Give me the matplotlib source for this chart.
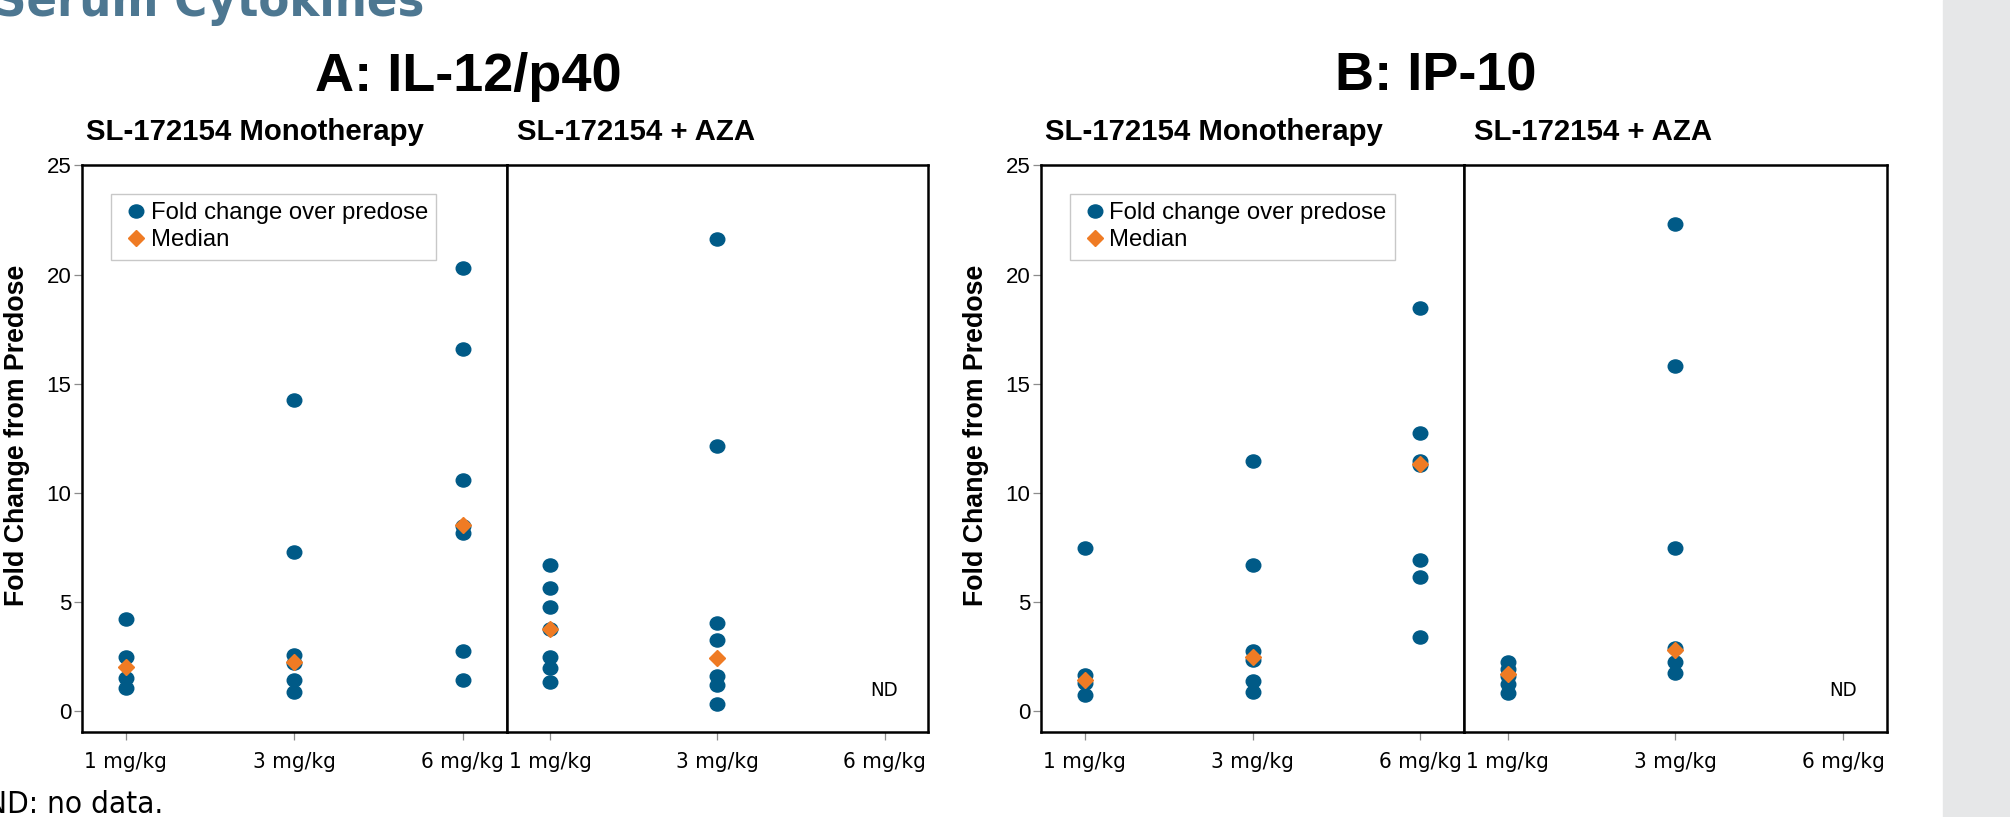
import matplotlib
matplotlib.use("Agg")
import matplotlib.pyplot as plt
from matplotlib import font_manager
from matplotlib.font_manager import FontProperties
from matplotlib.textpath import TextPath
from matplotlib.markers import MarkerStyle
from matplotlib.transforms import Affine2D
from matplotlib.patches import Rectangle

# ---- data ----
doses = ["1 mg/kg", "3 mg/kg", "6 mg/kg"]

il12_mono = [[4.24, 2.49, 1.52, 1.05],
             [14.24, 7.30, 2.57, 2.20, 1.44, 0.89],
             [20.28, 16.57, 10.61, 8.50, 8.16, 2.75, 1.45]]
il12_mono_median = [2.01, 2.26, 8.53]

il12_aza = [[6.69, 5.64, 4.76, 3.77, 2.49, 2.00, 1.35],
            [21.61, 12.16, 4.03, 3.29, 1.61, 1.21, 0.35],
            []]
il12_aza_median = [3.77, 2.43, None]

ip10_mono = [[7.46, 1.66, 1.30, 0.77],
             [11.47, 6.71, 2.75, 2.35, 1.38, 0.89],
             [18.48, 12.75, 11.45, 11.30, 6.95, 6.13, 3.40]]
ip10_mono_median = [1.45, 2.47, 11.32]

ip10_aza = [[2.26, 1.95, 1.60, 1.26, 0.82],
            [22.33, 15.82, 7.50, 2.92, 2.28, 1.75],
            []]
ip10_aza_median = [1.70, 2.80, None]

BLUE = "#005a87"
ORANGE = "#ef7b24"
TITLE_BLUE = "#4d7791"

plt.rcParams["font.family"] = ["Liberation Sans", "DejaVu Sans"]


def is_bold(w):
    if isinstance(w, str):
        return "bold" in w.lower() or w.lower() in ("heavy", "black")
    return w >= 600


def narrow_base(bold):
    # a condensed face if one is installed, else the regular sans
    picks = []
    for f in font_manager.fontManager.ttflist:
        st = str(f.stretch)
        if "Narrow" in f.name or st == "condensed":
            rank = 0
        elif "Condensed" in f.name or st == "semi-condensed":
            rank = 1
        else:
            continue
        if "Liberation" in f.name:
            rank = -1
        if is_bold(f.weight) == bold and f.style == "normal":
            picks.append((rank, f.fname))
    if picks:
        picks.sort()
        return FontProperties(fname=picks[0][1])
    return FontProperties(family="Liberation Sans",
                          weight="bold" if bold else "normal")


def fitted(bold, text, target_px):
    # size the condensed face so the text is as wide as in the reference
    fp = narrow_base(bold)
    w = TextPath((0, 0), text, size=10, prop=fp).get_extents().width
    fp = fp.copy()
    fp.set_size(10 * target_px / (w * 100 / 72))
    return fp


W, H = 2010, 817
fig = plt.figure(figsize=(W / 100, H / 100), dpi=100)


def fx(x):
    return x / W


def fy(y):
    return 1 - y / H


def px_axes(x0, x1, top, bot):
    return fig.add_axes([fx(x0), fy(bot), (x1 - x0) / W, (bot - top) / H])


dot = MarkerStyle("o", transform=Affine2D().scale(1.0, 0.9))
tick_fp = fitted(False, "3 mg/kg", 79)
nd_fp = fitted(False, "ND", 25)


def draw_panel(ax, values, medians, first):
    for i, vals in enumerate(values):
        if vals:
            ax.plot([i] * len(vals), vals, ls="none", marker=dot, ms=10.5,
                    color=BLUE, zorder=3,
                    label="Fold change over predose" if i == 0 else None)
        else:
            ax.text(i, 0.95, "ND", ha="center", va="center",
                    fontproperties=nd_fp)
    mx = [i for i, m in enumerate(medians) if m is not None]
    my = [m for m in medians if m is not None]
    ax.plot(mx, my, ls="none", marker="D", ms=8, color=ORANGE, zorder=4,
            label="Median")
    ax.set_xlim(-0.26, 2.26)
    ax.set_ylim(-0.93, 25)
    ax.set_xticks(range(len(doses)))
    ax.set_xticklabels(doses)
    for lbl in ax.get_xticklabels():
        lbl.set_fontproperties(tick_fp)
    ax.tick_params(axis="x", length=5.5, width=0.9, color="#8c8c8c", pad=9)
    for sp in ax.spines.values():
        sp.set_linewidth(1.8)
        sp.set_color("black")
    if first:
        ax.set_yticks([0, 5, 10, 15, 20, 25])
        ax.tick_params(axis="y", length=5.8, width=0.9, color="#8c8c8c",
                       pad=2, labelsize=16)
        leg = ax.legend(loc="upper left", bbox_to_anchor=(0.0676, 0.9493),
                        borderaxespad=0, fontsize=17.2, frameon=True,
                        fancybox=False, framealpha=1, edgecolor="#c8c8c8",
                        borderpad=0.35, handlelength=1.39, handletextpad=-0.07,
                        labelspacing=0.2)
        leg.get_frame().set_linewidth(1.0)
    else:
        ax.tick_params(axis="y", left=False, labelleft=False)


TOP, BOT = 165.3, 731.7
panels = [
    (82, 506.7, il12_mono, il12_mono_median, True),
    (506.7, 928, il12_aza, il12_aza_median, False),
    (1041, 1464, ip10_mono, ip10_mono_median, True),
    (1464, 1886.7, ip10_aza, ip10_aza_median, False),
]
for x0, x1, vals, med, first in panels:
    ax = px_axes(x0, x1, TOP, BOT)
    draw_panel(ax, vals, med, first)

# grey strip on the right edge
fig.patches.append(Rectangle((fx(1943), 0), 1 - fx(1943), 1,
                             transform=fig.transFigure, color="#e6e7e8",
                             zorder=0))

# texts
fig.text(fx(424), fy(16), "Serum Cytokines", ha="right", va="baseline",
         fontproperties=fitted(True, "Serum Cytokines", 426),
         color=TITLE_BLUE)
fig.text(fx(468), fy(90.7), "A: IL-12/p40", ha="center", va="baseline",
         fontweight="bold", fontsize=39)
fig.text(fx(1436), fy(90.7), "B: IP-10", ha="center", va="baseline",
         fontweight="bold", fontsize=39)
for x, label in [(86, "SL-172154 Monotherapy"), (516.6, "SL-172154 + AZA"),
                 (1044.7, "SL-172154 Monotherapy"), (1474, "SL-172154 + AZA")]:
    fig.text(fx(x), fy(140), label, ha="left", va="baseline",
             fontweight="bold", fontsize=21.2)
for x in (17, 976):
    fig.text(fx(x), fy(435), "Fold Change from Predose", rotation=90,
             ha="center", va="center", fontweight="bold", fontsize=19.3)
fig.text(fx(163.5), fy(813), "ND: no data.", ha="right", va="baseline",
         fontproperties=fitted(False, "ND: no data.", 172))

fig.savefig("out.png", dpi=100)
